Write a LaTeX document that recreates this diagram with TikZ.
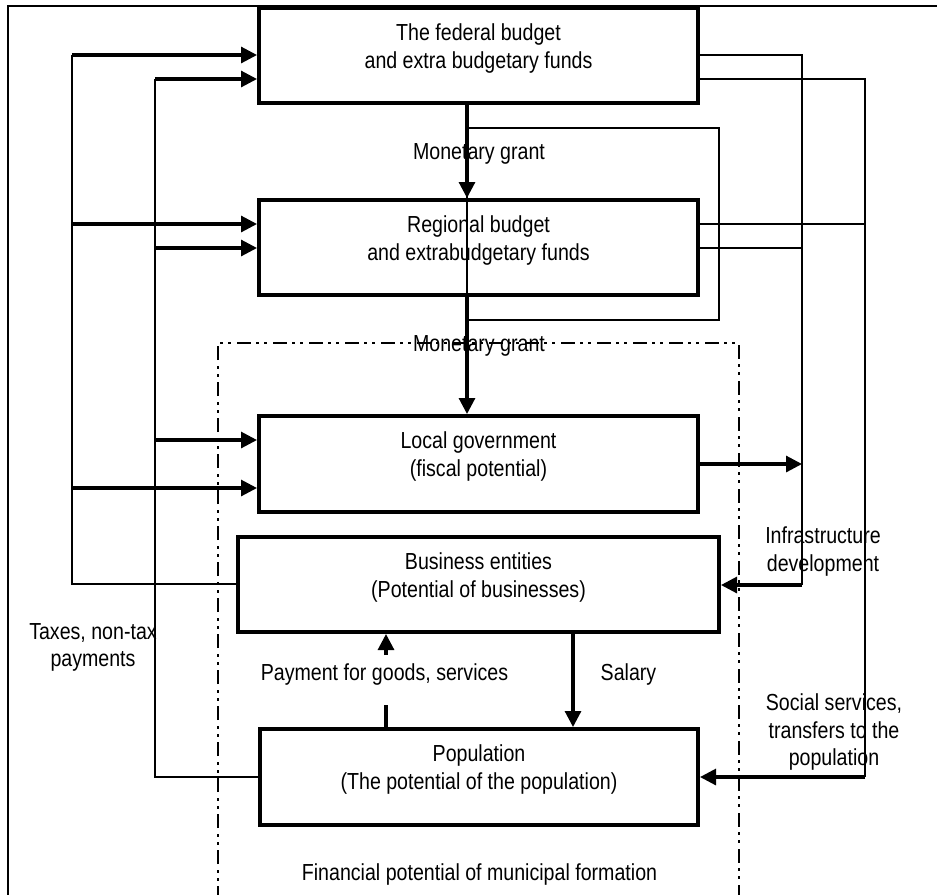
\documentclass[tikz,border=0pt]{standalone}
\usepackage{fontspec}
\setmainfont{Liberation Sans}[FakeStretch=0.845]
\usetikzlibrary{arrows.meta}
\begin{document}
\begin{tikzpicture}[x=0.75pt,y=-0.75pt,
  box/.style={draw, line width=3pt, inner sep=0pt},
  boxtext/.style={align=center, inner sep=0pt, font=\fontsize{17.4pt}{21pt}\selectfont},
  lbl/.style={align=center, inner sep=0pt, font=\fontsize{17.4pt}{20.5pt}\selectfont},
  thinl/.style={line width=1.4pt},
  frame/.style={line width=1.5pt},
  arrline/.style={line width=2.3pt},
  arr/.style={line width=2.3pt, -{Triangle[length=12pt,width=12pt]}},
  ddot/.style={line width=2pt, dash pattern=on 10.5pt off 3.8pt on 1.9pt off 4.1pt on 1.9pt off 4.8pt}]
\useasboundingbox (0,0) rectangle (937,894);
\begin{scope}
\clip (0,0) rectangle (937,894);
% outer frame
\coordinate (frBL) at (8,900);
\coordinate (frTL) at (8,6);
\coordinate (frTR) at (940,6);
\draw[frame] (frBL) -- (frTL) -- (frTR);

% boxes
\node[box, minimum width=329.25pt, minimum height=71.25pt] (fed) at (478.5,55.5) {};
\node[boxtext] (fedt) at ([yshift=5.6pt]fed.center) {The federal budget\\and extra budgetary funds};
\node[box, minimum width=329.25pt, minimum height=71.25pt] (reg) at (478.5,247.5) {};
\node[boxtext] (regt) at ([yshift=5.6pt]reg.center) {Regional budget\\and extrabudgetary funds};
\node[box, minimum width=329.25pt, minimum height=72pt] (loc) at (478.5,464) {};
\node[boxtext] (loct) at ([yshift=5.6pt]loc.center) {Local government\\(fiscal potential)};
\node[box, minimum width=360.75pt, minimum height=71.25pt] (bus) at (478.5,584.5) {};
\node[boxtext] (bust) at ([yshift=5.6pt]bus.center) {Business entities\\(Potential of businesses)};
\node[box, minimum width=328.5pt, minimum height=72pt] (pop) at (479,777) {};
\node[boxtext] (popt) at ([yshift=5.6pt]pop.center) {Population\\(The potential of the population)};

% dash-dot boundary of the municipal formation
\coordinate (ddBL) at (218,900);
\coordinate (ddTL) at (218,343);
\coordinate (ddTR) at (739,343);
\coordinate (ddBR) at (739,900);
\draw[ddot] (ddBL) -- (ddTL) -- (ddTR) -- (ddBR);

% taxes, left side
\coordinate (ta1) at (72,55);
\coordinate (ta2) at (72,224);
\coordinate (ta3) at (72,488);
\coordinate (ta4) at (72,584);
\coordinate (tb1) at (155,79);
\coordinate (tb2) at (155,248);
\coordinate (tb3) at (155,440);
\coordinate (tb4) at (155,777);
\draw[thinl] (ta1) -- (ta4) -- (ta4 -| bus.west);
\draw[thinl] (tb1) -- (tb4) -- (tb4 -| pop.west);
\draw[arr] (ta1) -- (ta1 -| fed.west);
\draw[arr] (tb1) -- (tb1 -| fed.west);
\draw[arr] (ta2) -- (ta2 -| reg.west);
\draw[arr] (tb2) -- (tb2 -| reg.west);
\draw[arr] (tb3) -- (tb3 -| loc.west);
\draw[arr] (ta3) -- (ta3 -| loc.west);

% right side
\coordinate (ra1) at (802,55);
\coordinate (ra2) at (802,248);
\coordinate (ra3) at (802,464);
\coordinate (ra4) at (802,585);
\coordinate (rb1) at (865,79);
\coordinate (rb2) at (865,224);
\coordinate (rb3) at (865,777);
\draw[thinl] (ra1 -| fed.east) -- (ra1) -- (ra4);
\draw[thinl] (rb1 -| fed.east) -- (rb1) -- (rb3);
\draw[thinl] (rb2 -| reg.east) -- (rb2);
\draw[thinl] (ra2 -| reg.east) -- (ra2);
\draw[arr] (ra3 -| loc.east) -- (ra3);
\draw[arr] (ra4) -- (ra4 -| bus.east);
\draw[arr] (rb3) -- (rb3 -| pop.east);

% monetary grants
\coordinate (gx) at (467,0);
\coordinate (trTL) at (467,128);
\coordinate (trBR) at (719,320);
\draw[thinl] (trTL) rectangle (trBR);
\draw[arr] (fed.south -| gx) -- (reg.north -| gx);
\draw[arr] (reg.south -| gx) -- (loc.north -| gx);

% salary and payment
\coordinate (sx) at (573,0);
\draw[arr] (bus.south -| sx) -- (pop.north -| sx);
\coordinate (pTop) at (386,655);
\coordinate (pBot) at (386,705);
\draw[arrline] (pop.north -| pBot) -- (pBot);
\draw[arr] (pTop) -- (pTop |- bus.south);

% labels
\node[lbl, anchor=base] (mg1) at (479,159) {Monetary grant};
\node[lbl, anchor=base] (mg2) at (479,351) {Monetary grant};
\node[lbl, anchor=base] (pay) at (384.5,680) {Payment for goods, services};
\node[lbl, anchor=base] (sal) at (628.5,680) {Salary};
\node[lbl, anchor=base] (fin) at (479.5,880) {Financial potential of municipal formation};
\node[lbl] (tax) at (93,647.5) {Taxes, non-tax\\payments};
\node[lbl] (inf) at (823,551.5) {Infrastructure\\development};
\node[lbl] (soc) at (834,732) {Social services,\\transfers to the\\population};
\end{scope}
\end{tikzpicture}
\end{document}
